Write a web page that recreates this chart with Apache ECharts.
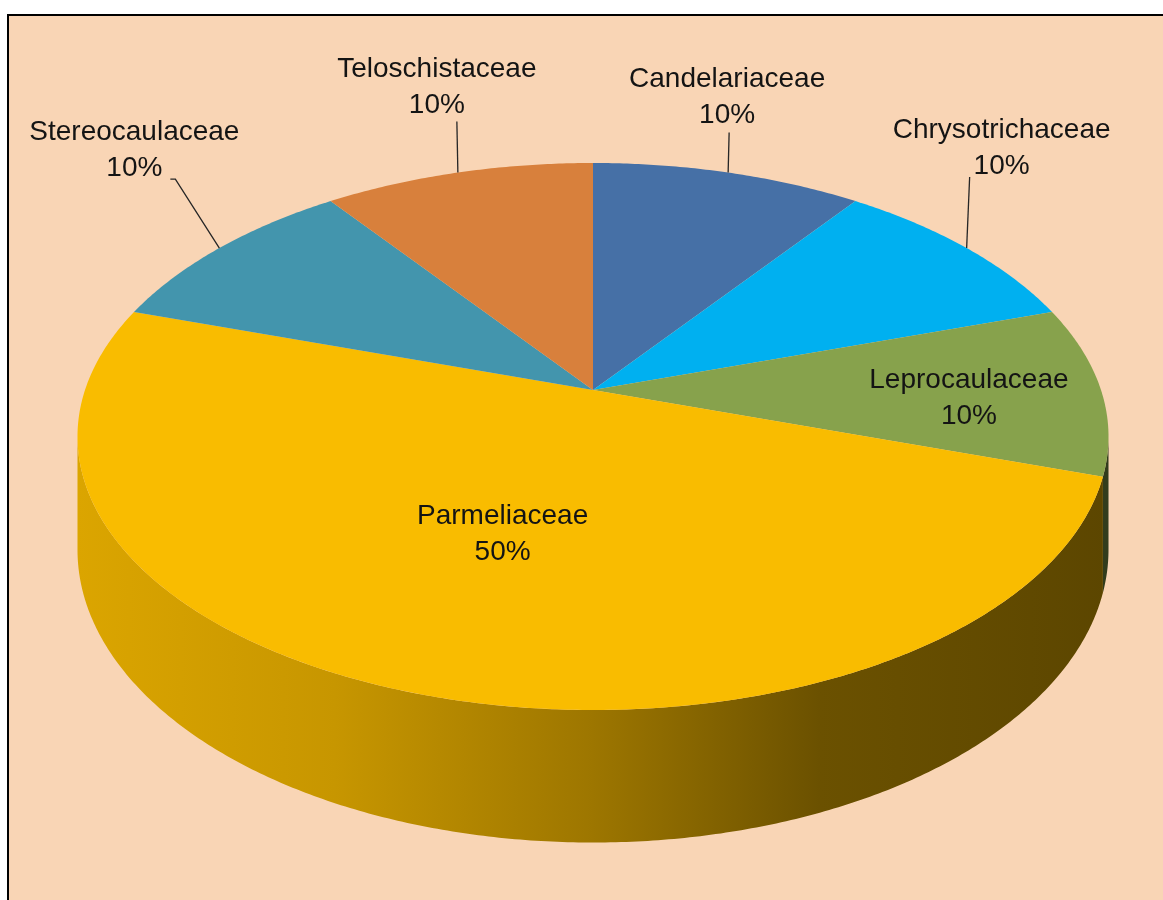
<!DOCTYPE html>
<html>
<head>
<meta charset="utf-8">
<script src="https://cdn.jsdelivr.net/npm/echarts@6/dist/echarts.min.js"></script>
<style>
  html, body { margin: 0; padding: 0; background: #ffffff; }
  #chart { width: 1163px; height: 900px; }
</style>
</head>
<body>
<div id="chart"></div>
<script>
/* -------------------------------------------------------------------------- */
/* Lichen families - 3D pie */
var families = ['Candelariaceae', 'Chrysotrichaceae', 'Leprocaulaceae', 'Parmeliaceae', 'Stereocaulaceae', 'Teloschistaceae'];
var shares = [10, 10, 10, 50, 10, 10];

var palette = ['#4670A6', '#00B0F0', '#87A24C', '#F9BC00', '#4395AD', '#D8803C'];

// label placement, kept apart from the data
var labelLayout = [
  { offset: [-1, -75], leader: [[1, -40]] },
  { offset: [35, -100], leader: [[3, -71]] },
  { inside: 0.74, offset: [0, 8] },
  { inside: 0.5, offset: [-5, 7] },
  { offset: [-85, -98], leader: [[-44, -69], [-49, -69]] },
  { offset: [-21, -85], leader: [[-1, -51]] }
];

var W = 1163, H = 900;
var CX = 593, CY = 390, RX = 508;   // pie centre and half width, px
var K = 0.17;                       // perspective
var YS = 265.6 / RX;                // vertical squash
var DEPTH = 110 / RX;               // wall height, pie units
var SIL = Math.acos(-K);            // silhouette angle of the wall

var total = shares.reduce(function (a, b) { return a + b; }, 0);
var sliceData = [];
var acc = 0;
shares.forEach(function (v, i) {
  sliceData.push([acc / total, (acc + v) / total, v, i]);
  acc += v;
});

var proj = function (theta, r, drop) {
  var x = r * Math.sin(theta);
  var z = -r * Math.cos(theta);
  var den = 1 - K * z;
  return [x / den, (YS * z + (drop || 0)) / den];
};

var shade = function (hex, f) {
  var n = parseInt(hex.slice(1), 16);
  var r = Math.round(((n >> 16) & 255) * f);
  var g = Math.round(((n >> 8) & 255) * f);
  var b = Math.round((n & 255) * f);
  return 'rgb(' + r + ',' + g + ',' + b + ')';
};

var arcPoints = function (api, a0, a1, drop) {
  var pts = [];
  var steps = Math.max(2, Math.ceil((a1 - a0) / (Math.PI / 360)));
  for (var s = 0; s <= steps; s++) {
    var t = a0 + (a1 - a0) * s / steps;
    pts.push(api.coord(proj(t, 1, drop)));
  }
  return pts;
};

var renderSide = function (params, api) {
  var a0 = Math.max(api.value(0) * 2 * Math.PI, SIL);
  var a1 = Math.min(api.value(1) * 2 * Math.PI, 2 * Math.PI - SIL);
  if (a1 <= a0) return null;
  var top = arcPoints(api, a0, a1, 0);
  var bottom = arcPoints(api, a0, a1, DEPTH).reverse();
  var left = api.coord(proj(2 * Math.PI - SIL, 1, 0));
  var right = api.coord(proj(SIL, 1, 0));
  var c = palette[api.value(3)];
  var fill = new echarts.graphic.LinearGradient(left[0], 0, right[0], 0, [
    { offset: 0, color: shade(c, 0.88) },
    { offset: 0.25, color: shade(c, 0.8) },
    { offset: 0.5, color: shade(c, 0.63) },
    { offset: 0.72, color: shade(c, 0.43) },
    { offset: 1, color: shade(c, 0.37) }
  ], true);
  return {
    type: 'polygon',
    shape: { points: top.concat(bottom) },
    style: { fill: fill }
  };
};

var renderTop = function (params, api) {
  var a0 = api.value(0) * 2 * Math.PI;
  var a1 = api.value(1) * 2 * Math.PI;
  var pts = [api.coord([0, 0])].concat(arcPoints(api, a0, a1, 0));
  return {
    type: 'polygon',
    shape: { points: pts },
    style: { fill: palette[api.value(3)] }
  };
};

var renderLabel = function (params, api) {
  var i = api.value(3);
  var lay = labelLayout[i];
  var mid = (api.value(0) + api.value(1)) * Math.PI;
  var pct = Math.round(api.value(2) / total * 100) + '%';
  var children = [];
  var anchor, pos;
  if (lay.inside) {
    anchor = api.coord(proj(mid, lay.inside, 0));
  } else {
    anchor = api.coord(proj(mid, 1, 0));
    var line = [anchor].concat(lay.leader.map(function (p) {
      return [anchor[0] + p[0], anchor[1] + p[1]];
    }));
    children.push({
      type: 'polyline',
      shape: { points: line },
      style: { stroke: '#262626', lineWidth: 1.3, fill: null }
    });
  }
  pos = [anchor[0] + lay.offset[0], anchor[1] + lay.offset[1]];
  children.push({
    type: 'text',
    style: {
      text: families[i] + '\n' + pct,
      x: pos[0],
      y: pos[1],
      align: 'center',
      verticalAlign: 'middle',
      textAlign: 'center',
      textVerticalAlign: 'middle',
      fontSize: 28,
      fontFamily: '"Liberation Sans", Arial, sans-serif',
      lineHeight: 36,
      fill: '#141414'
    }
  });
  return { type: 'group', children: children };
};

var chart = echarts.init(document.getElementById('chart'));
chart.setOption({
  backgroundColor: '#ffffff',
  animation: false,
  graphic: [{
    type: 'rect',
    z: -10,
    shape: { x: 8, y: 15, width: 1200, height: 1000 },
    style: { fill: '#F9D5B5', stroke: '#000000', lineWidth: 2 }
  }],
  grid: { left: 0, right: 0, top: 0, bottom: 0 },
  xAxis: { type: 'value', min: -CX / RX, max: (W - CX) / RX, show: false },
  yAxis: { type: 'value', inverse: true, min: -CY / RX, max: (H - CY) / RX, show: false },
  series: [
    { type: 'custom', z: 2, renderItem: renderSide, data: sliceData, silent: true },
    { type: 'custom', z: 3, renderItem: renderTop, data: sliceData, silent: true },
    { type: 'custom', z: 4, renderItem: renderLabel, data: sliceData, silent: true }
  ]
});
/* -------------------------------------------------------------------------- */
</script>
</body>
</html>
